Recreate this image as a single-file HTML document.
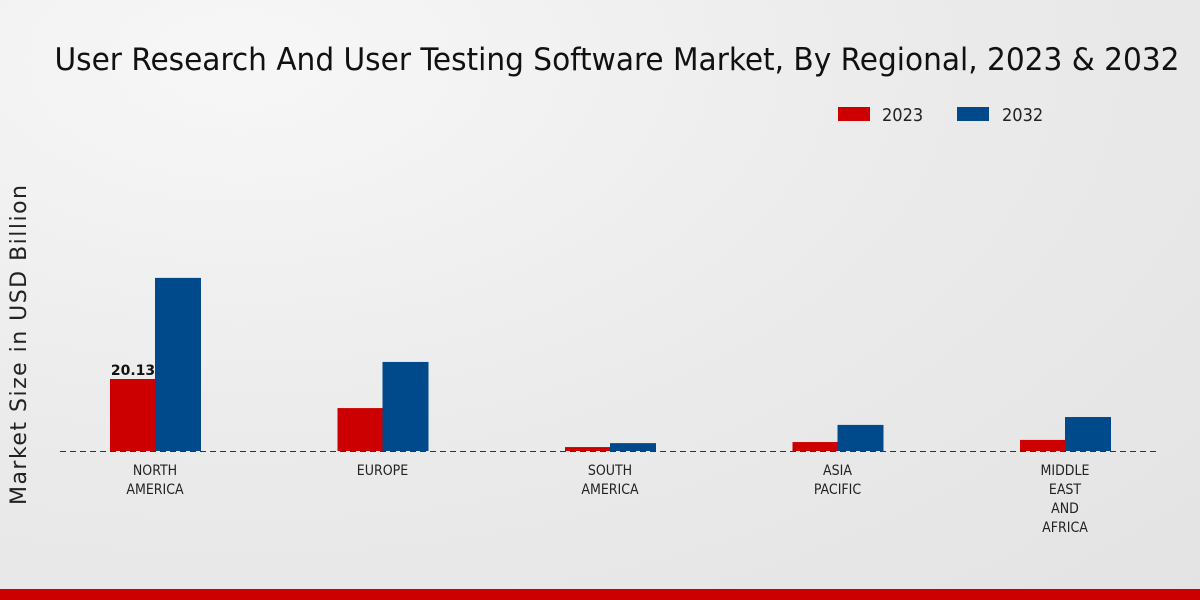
<!DOCTYPE html>
<html><head><meta charset="utf-8"><style>
body{margin:0;width:1200px;height:600px;overflow:hidden;font-family:"DejaVu Sans","Liberation Sans",sans-serif;}
#bg{position:absolute;left:0;top:0;width:1200px;height:600px;background:radial-gradient(ellipse at 20% 10%,#f7f7f7 0%,#ebebeb 50%,#e3e3e3 100%);}
</style></head><body>
<div id="bg"></div>
<svg id="chart" width="1200" height="600" style="position:absolute;left:0;top:0">
<text x="617" y="70" text-anchor="middle" font-size="31" fill="#111" font-family="'DejaVu Sans Condensed','Liberation Sans Narrow','DejaVu Sans',sans-serif" textLength="1125" lengthAdjust="spacingAndGlyphs">User Research And User Testing Software Market, By Regional, 2023 &amp; 2032</text>
<g>
<rect x="838" y="107" width="32" height="14" fill="#cc0000"/>
<text x="882" y="121" font-size="18" fill="#222" font-family="'DejaVu Sans Condensed',sans-serif">2023</text>
<rect x="957" y="107" width="32" height="14" fill="#004a8c"/>
<text x="1002" y="121" font-size="18" fill="#222" font-family="'DejaVu Sans Condensed',sans-serif">2032</text>
</g>
<text transform="translate(26,345) rotate(-90)" text-anchor="middle" font-size="22" fill="#222" textLength="320" lengthAdjust="spacing">Market Size in USD Billion</text>
<line x1="60" y1="451.5" x2="1160" y2="451.5" stroke="#333" stroke-dasharray="6,4"/>
<g id="bars"></g>
<rect x="0" y="589" width="1200" height="11" fill="#cc0000"/>
</svg>
<script>
const categories=[["NORTH","AMERICA"],["EUROPE"],["SOUTH","AMERICA"],["ASIA","PACIFIC"],["MIDDLE","EAST","AND","AFRICA"]];
const values2023=[20.13,12.0,1.1,2.5,3.1];
const values2032=[48.4,24.9,2.2,7.3,9.5];
const labels2023=["20.13","","","",""];
const ns="http://www.w3.org/2000/svg";
const g=document.getElementById('bars');
const y0=451,scale=72/20.13;
const xc=i=>155+i*227.5;
const yv=v=>y0-v*scale;
function mk(t,a){const e=document.createElementNS(ns,t);for(const k in a)e.setAttribute(k,a[k]);return e;}
categories.forEach((c,i)=>{
 const r=mk('rect',{x:xc(i)-45,y:yv(values2023[i]),width:45,height:values2023[i]*scale,fill:'#cc0000'});
 
 
 g.appendChild(r);
 const b=mk('rect',{x:xc(i),y:yv(values2032[i]),width:46,height:values2032[i]*scale,fill:'#004a8c'});
 
 
 g.appendChild(b);
 if(labels2023[i]){const t=mk('text',{x:xc(i)-22,y:yv(values2023[i])-4,'text-anchor':'middle','font-size':14,'font-weight':'bold',fill:'#111'});t.textContent=labels2023[i];
 
 
 g.appendChild(t);}
 c.forEach((ln,j)=>{const t=mk('text',{x:xc(i),y:475+j*19,'text-anchor':'middle','font-size':14,fill:'#222','font-family':"'DejaVu Sans Condensed',sans-serif"});t.textContent=ln;
 
 
 g.appendChild(t);});
});
</script>
</body></html>
